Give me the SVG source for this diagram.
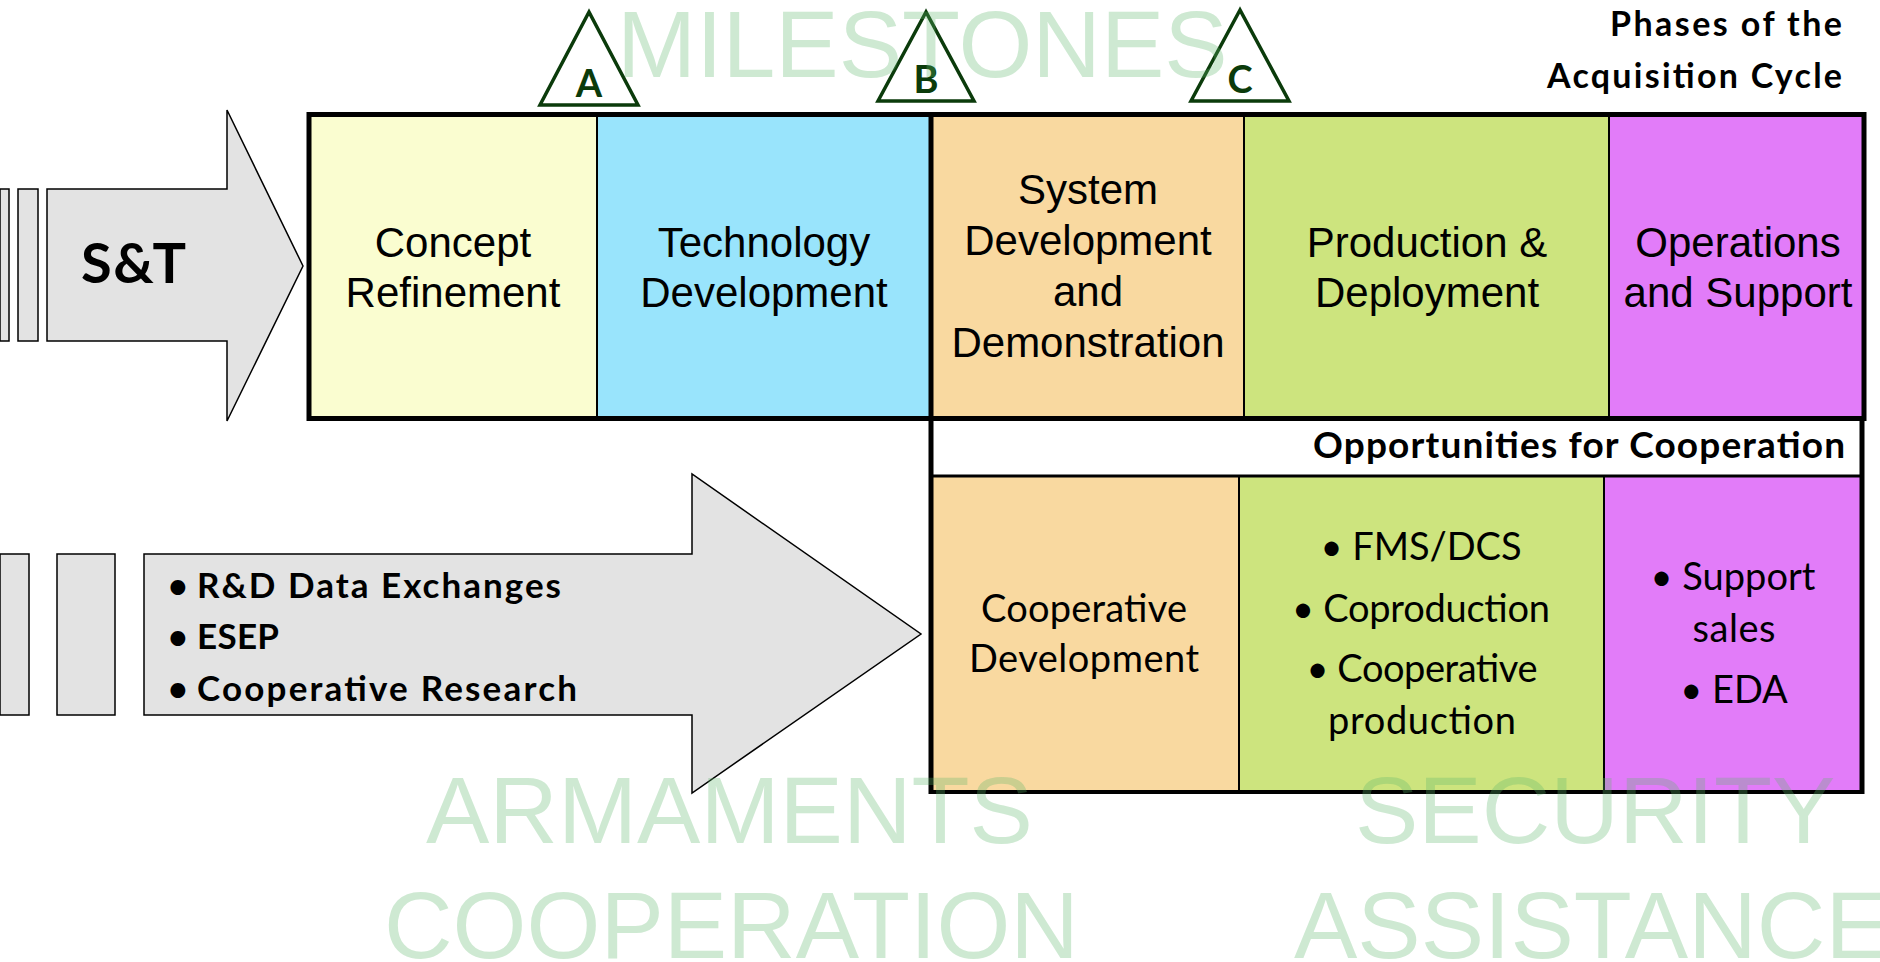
<svg xmlns="http://www.w3.org/2000/svg" width="1880" height="962" viewBox="0 0 1880 962">
<style>
.ar{font-family:"Liberation Sans",Arial,sans-serif;font-size:42px;fill:#000;text-anchor:middle}
.cb{font-family:Lato,"Liberation Sans",sans-serif;font-weight:bold;fill:#000}
.cr{font-family:Lato,"Liberation Sans",sans-serif;font-size:38px;fill:#000;text-anchor:middle}
.wm{font-family:"Liberation Sans",Arial,sans-serif;font-size:95px;fill:#5DB56A;fill-opacity:0.3}
.ms{font-family:Lato,"Liberation Sans",sans-serif;font-weight:bold;font-size:38px;fill:#0B3B0B;text-anchor:middle}
.arrow{fill:#E3E3E3;stroke:#000;stroke-width:1.5}
.tri{fill:#fff;stroke:#0B3B0B;stroke-width:3.5;stroke-linejoin:miter}
.thin{stroke:#000;stroke-width:2;fill:none}
.thick{stroke:#000;stroke-width:5;fill:none}
</style>
<rect width="1880" height="962" fill="#fff"/>

<g id="st-arrow">
<rect x="0" y="189" width="9" height="152" class="arrow"/>
<rect x="18" y="189" width="20" height="152" class="arrow"/>
<polygon points="47,189 227,189 227,110 303,266 227,421 227,341 47,341" class="arrow"/>
<text x="81" y="283" class="cb" font-size="56" textLength="105">S&amp;T</text>
</g>

<g id="milestones">
<polygon points="589,12 540,105 638,105" class="tri"/>
<text x="589" y="97" class="ms">A</text>
<polygon points="926,12 878,101 974,101" class="tri"/>
<text x="926" y="93" class="ms">B</text>
<polygon points="1240,10 1191,101 1289,101" class="tri"/>
<text x="1240" y="93" class="ms">C</text>
</g>

<g id="phases-title">
<text x="1842" y="36" class="cb" font-size="34" text-anchor="end" textLength="232">Phases of the</text>
<text x="1842" y="88" class="cb" font-size="34" text-anchor="end" textLength="295">Acquisition Cycle</text>
</g>

<g id="concept-refinement">
<rect x="309" y="114" width="288" height="305" fill="#FAFDD0"/>
<text class="ar"><tspan x="453" y="257">Concept</tspan><tspan x="453" y="307">Refinement</tspan></text>
</g>
<g id="technology-development">
<rect x="597" y="114" width="334" height="305" fill="#99E4FC"/>
<text class="ar"><tspan x="764" y="257">Technology</tspan><tspan x="764" y="307">Development</tspan></text>
</g>
<g id="system-development">
<rect x="931" y="114" width="313" height="305" fill="#F9D9A0"/>
<text class="ar"><tspan x="1088" y="204">System</tspan><tspan x="1088" y="255">Development</tspan><tspan x="1088" y="306">and</tspan><tspan x="1088" y="357">Demonstration</tspan></text>
</g>
<g id="production-deployment">
<rect x="1244" y="114" width="365" height="305" fill="#CDE47E"/>
<text class="ar"><tspan x="1427" y="257">Production &amp;</tspan><tspan x="1427" y="307">Deployment</tspan></text>
</g>
<g id="operations-support">
<rect x="1609" y="114" width="255" height="305" fill="#E27CF9"/>
<text class="ar"><tspan x="1738" y="257">Operations</tspan><tspan x="1738" y="307">and Support</tspan></text>
</g>

<g id="opportunities-band">
<rect x="931" y="419" width="931" height="57" fill="#fff"/>
<text x="1845" y="458" class="cb" font-size="37" text-anchor="end" textLength="532">Opportunities for Cooperation</text>
</g>

<g id="cooperative-development">
<rect x="931" y="476" width="308" height="316" fill="#F9D9A0"/>
<text class="cr"><tspan x="1084" y="622" textLength="206">Cooperative</tspan><tspan x="1084" y="672" textLength="230">Development</tspan></text>
</g>
<g id="fms-coproduction">
<rect x="1239" y="476" width="365" height="316" fill="#CDE47E"/>
<text x="1421" y="560" class="cr">• FMS/DCS</text>
<text x="1421" y="622" class="cr" textLength="258">• Coproduction</text>
<text x="1422" y="682" class="cr" textLength="231">• Cooperative</text>
<text x="1422" y="734" class="cr" textLength="188">production</text>
</g>
<g id="support-sales">
<rect x="1604" y="476" width="258" height="316" fill="#E27CF9"/>
<text x="1733" y="590" class="cr">• Support</text>
<text x="1734" y="642" class="cr" textLength="83">sales</text>
<text x="1734" y="703" class="cr">• EDA</text>
</g>

<g id="frame-lines">
<rect x="309" y="114.5" width="1555" height="304" class="thick"/>
<line x1="597" y1="114" x2="597" y2="419" class="thin"/>
<line x1="1244" y1="114" x2="1244" y2="419" class="thin"/>
<line x1="1609" y1="114" x2="1609" y2="419" class="thin"/>
<line x1="931" y1="112" x2="931" y2="794" class="thick"/>
<line x1="1862" y1="417" x2="1862" y2="794" class="thick"/>
<line x1="931" y1="476" x2="1862" y2="476" stroke="#000" stroke-width="3"/>
<line x1="929" y1="792" x2="1864" y2="792" stroke="#000" stroke-width="4"/>
<line x1="1239" y1="476" x2="1239" y2="792" class="thin"/>
<line x1="1604" y1="476" x2="1604" y2="792" class="thin"/>
</g>

<g id="armaments-arrow">
<rect x="0" y="554" width="29" height="161" class="arrow"/>
<rect x="57" y="554" width="58" height="161" class="arrow"/>
<polygon points="144,554 692,554 692,474 921,634 692,793 692,715 144,715" class="arrow"/>
<text x="168" y="598" class="cb" font-size="34">•</text>
<text x="197" y="598" class="cb" font-size="35" textLength="364">R&amp;D Data Exchanges</text>
<text x="168" y="649" class="cb" font-size="34">•</text>
<text x="197" y="649" class="cb" font-size="35" textLength="82">ESEP</text>
<text x="168" y="701" class="cb" font-size="34">•</text>
<text x="197" y="701" class="cb" font-size="35" textLength="380">Cooperative Research</text>
</g>

<g id="watermarks">
<text x="617" y="77" class="wm">MILESTONES</text>
<text x="426" y="843" class="wm">ARMAMENTS</text>
<text x="384" y="958" class="wm">COOPERATION</text>
<text x="1355" y="843" class="wm">SECURITY</text>
<text x="1294" y="958" class="wm">ASSISTANCE</text>
</g>
</svg>
